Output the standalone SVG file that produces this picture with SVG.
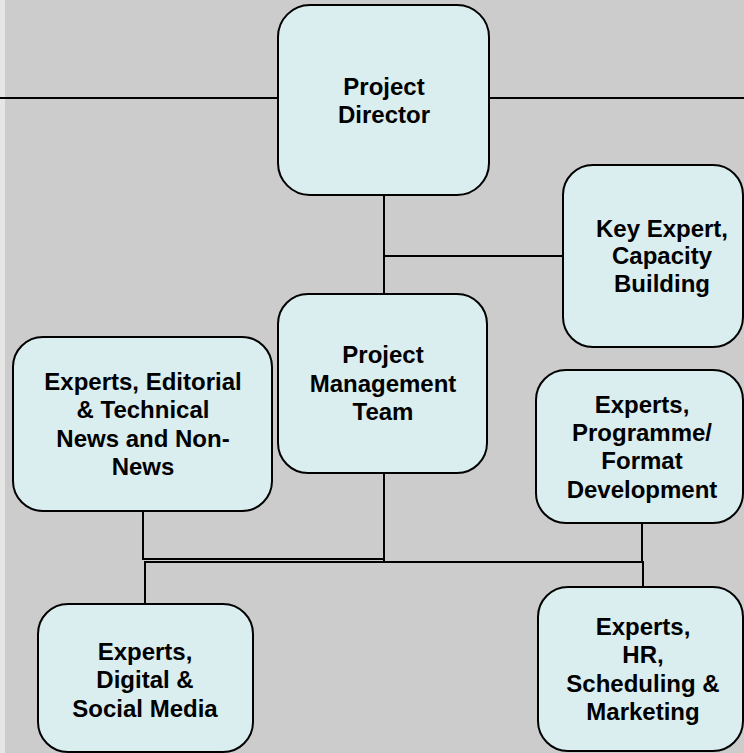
<svg xmlns="http://www.w3.org/2000/svg" width="744" height="753" viewBox="0 0 744 753">
<style>
.box{fill:#daedef;stroke:#000;stroke-width:2}
.ln{stroke:#000;stroke-width:2;fill:none}
text{font-family:"Liberation Sans","Arial",sans-serif;font-weight:bold;font-size:24px;fill:#000;text-anchor:middle}
</style>
<rect x="0" y="0" width="744" height="753" fill="#cccccc"/>
<rect x="0" y="0" width="5" height="753" fill="#e6e6e6"/>
<g id="connectors">
<path class="ln" d="M0 98H278M489 98H744"/>
<path class="ln" d="M384 195V294M384 256H563"/>
<path class="ln" d="M143 511V559H384"/>
<path class="ln" d="M384 473V562"/>
<path class="ln" d="M145 604V562H643V587"/>
<path class="ln" d="M642 523V562"/>
</g>
<g id="project-director">
<rect class="box" x="278" y="5" width="211" height="190" rx="32"/>
<text x="384" y="95">Project</text>
<text x="384" y="123">Director</text>
</g>
<g id="key-expert">
<rect class="box" x="563" y="165" width="180" height="182" rx="30"/>
<text x="662" y="237">Key Expert,</text>
<text x="662" y="264">Capacity</text>
<text x="662" y="292">Building</text>
</g>
<g id="pmt">
<rect class="box" x="278" y="294" width="209" height="179" rx="30"/>
<text x="383" y="363">Project</text>
<text x="383" y="392">Management</text>
<text x="383" y="420">Team</text>
</g>
<g id="editorial">
<rect class="box" x="13" y="337" width="259" height="174" rx="30"/>
<text x="143" y="390">Experts, Editorial</text>
<text x="143" y="418">&amp; Technical</text>
<text x="143" y="447">News and Non-</text>
<text x="143" y="475">News</text>
</g>
<g id="programme">
<rect class="box" x="536" y="370" width="207" height="153" rx="30"/>
<text x="642" y="413">Experts,</text>
<text x="642" y="441">Programme/</text>
<text x="642" y="469">Format</text>
<text x="642" y="498">Development</text>
</g>
<g id="digital">
<rect class="box" x="38" y="604" width="215" height="148" rx="30"/>
<text x="145" y="660">Experts,</text>
<text x="145" y="688">Digital &amp;</text>
<text x="145" y="717">Social Media</text>
</g>
<g id="hr">
<rect class="box" x="538" y="587" width="205" height="164" rx="30"/>
<text x="643" y="635">Experts,</text>
<text x="643" y="663">HR,</text>
<text x="643" y="692">Scheduling &amp;</text>
<text x="643" y="720">Marketing</text>
</g>
</svg>
